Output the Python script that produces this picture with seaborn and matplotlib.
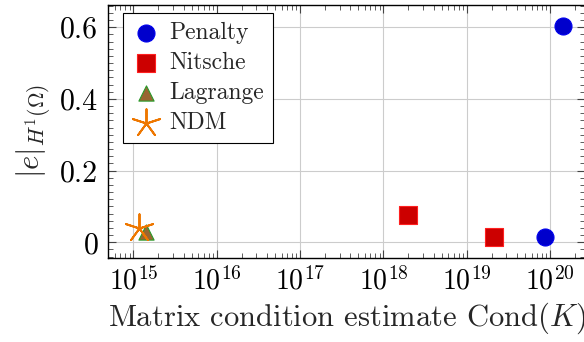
import matplotlib
matplotlib.use("Agg")
import matplotlib.pyplot as plt
from matplotlib.ticker import LogLocator, MultipleLocator, FixedLocator, FixedFormatter
import seaborn as sns
import pandas as pd

# values
methods = ["Penalty", "Penalty", "Nitsche", "Nitsche", "Lagrange", "NDM"]
cond_est = [1.45e20, 8.8e19, 2.0e18, 2.1e19, 1.42e15, 1.17e15]
h1_error = [0.604, 0.015, 0.076, 0.015, 0.028, 0.041]
ytick_vals = [0, 0.2, 0.4, 0.6]
ytick_labels = ["0", "0.2", "0.4", "0.6"]

df = pd.DataFrame({"method": methods, "cond": cond_est, "err": h1_error})

sns.set_style("ticks")
plt.rcParams["font.family"] = "serif"
plt.rcParams["font.serif"] = ["cmr10", "DejaVu Serif"]
plt.rcParams["mathtext.fontset"] = "cm"
plt.rcParams["axes.formatter.use_mathtext"] = True

W, H = 584, 342
fig = plt.figure(figsize=(W / 100, H / 100), dpi=100)
ax = fig.add_axes([108 / W, (H - 258) / H, (585 - 108) / W, (258 - 5) / H])

styles = {
    "Penalty": dict(marker="o", s=150, color="#0000cc", edgecolor="#0000ee", linewidth=0.8),
    "Nitsche": dict(marker="s", s=150, color="#cc0000", edgecolor="#ff2020", linewidth=0.8),
    "Lagrange": dict(marker="^", s=120, color="#996633", edgecolor="#2a9a2a", linewidth=0.8),
    "NDM": dict(marker=(5, 2, 0), s=420, color="#ee7700", linewidth=1.4),
}
for name, st in styles.items():
    sub = df[df["method"] == name]
    sns.scatterplot(data=sub, x="cond", y="err", ax=ax, label=name, zorder=3, **st)

ax.set_xscale("log")
ax.set_xlim(10 ** 14.696, 10 ** 20.42)
ax.set_ylim(-0.0438, 0.662)

ax.xaxis.set_major_locator(LogLocator(base=10, numticks=20))
ax.xaxis.set_minor_locator(LogLocator(base=10, subs=range(2, 10), numticks=100))
ax.yaxis.set_major_locator(FixedLocator(ytick_vals))
ax.yaxis.set_major_formatter(FixedFormatter(ytick_labels))
ax.yaxis.set_minor_locator(MultipleLocator(0.02))

ax.tick_params(which="both", direction="in", top=True, right=True, colors="#444444",
               labelcolor="black")
ax.tick_params(axis="x", labelsize=20, pad=6)
ax.tick_params(axis="y", labelsize=21.5, pad=7)
ax.tick_params(which="major", length=6, width=0.8)
ax.tick_params(which="minor", length=3.5, width=0.6)
ax.grid(True, which="major", color="#cccccc", linewidth=0.8)
ax.set_axisbelow(True)
for sp in ax.spines.values():
    sp.set_linewidth(1.0)
    sp.set_color("black")

ax.set_xlabel(r"Matrix condition estimate Cond$(K)$", fontsize=22, labelpad=4)
ax.set_ylabel(r"$|e|_{H^1(\Omega)}$", fontsize=22, labelpad=6)

leg = ax.legend(loc="upper left", bbox_to_anchor=(0.031, 0.967), frameon=True, fancybox=False,
                edgecolor="black", framealpha=1, fontsize=17, handletextpad=0.4,
                handlelength=1.2, borderpad=0.37, labelspacing=0.33, borderaxespad=0)
leg.get_frame().set_linewidth(0.8)

fig.savefig("out.png", dpi=100)
